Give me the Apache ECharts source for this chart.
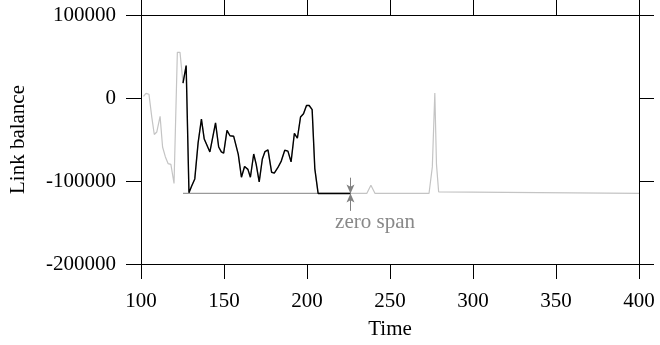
<!DOCTYPE html>
<html>
<head>
<meta charset="utf-8">
<script src="https://cdn.jsdelivr.net/npm/echarts@6/dist/echarts.min.js"></script>
<style>html,body{margin:0;padding:0;background:#fff}#c{width:660px;height:345px}</style>
</head>
<body>
<div id="c"></div>
<script>
// ---- data ----
const greyBeforeT = [101.5, 103, 104.8, 106.5, 108, 109.5, 111.5, 113, 114.7, 116.3, 118, 119.9, 121.9, 123.5];
const greyBeforeV = [2000, 5500, 4500, -23000, -44000, -41000, -22000, -59000, -71000, -79000, -80000, -103000, 55000, 55000];

const blackT = [125.3, 127.2, 128.9, 130.4, 132.4, 134.4, 136.4, 138.1, 141.5, 144.9, 146.8, 148.4, 149.8, 151.8, 153.6, 155.8, 158.6, 160.5, 162.4, 164.4, 165.9, 167.9, 169.4, 171.2, 173.1, 174.7, 176.5, 178.7, 180.3, 182.4, 184.5, 186.6, 188.5, 190.4, 192.4, 194.2, 196.1, 197.9, 199.7, 201.3, 203.1, 204.7, 206.7, 226.2];
const blackV = [17800, 39000, -114200, -106600, -97500, -54000, -25500, -49500, -65000, -30000, -59000, -65000, -66500, -39000, -45500, -46000, -68000, -95500, -82500, -86000, -95500, -67500, -80000, -101000, -73500, -64500, -62500, -89500, -90500, -84000, -76000, -63000, -64000, -77000, -42500, -48500, -23000, -19000, -9000, -9000, -14000, -85000, -115000, -115000];

const greyAfterT = [236, 238.5, 241, 273.5, 275.5, 277, 278, 279.3, 280.5, 400];
const greyAfterV = [-115000, -105000, -115000, -115000, -83000, 6000, -80000, -113000, -115000, -115000];

const zeroSpanT = [125.3, 226.2];
const zeroSpanV = [-115000, -115000];

const xTicks = [100, 150, 200, 250, 300, 350, 400];
const yTicks = [-200000, -100000, 0, 100000];

// annotation anchors (data units)
const arrowX = 226.2, arrowLevel = -115000, arrowTopStart = -96000, arrowBottomStart = -136000;
const noteAt = [241, -150000];
const noteText = 'zero span';

// ---- build ----
const pairs = (t, v) => t.map((x, i) => [x, v[i]]);
const greyAll = pairs(greyBeforeT, greyBeforeV).concat(pairs(blackT, blackV), pairs(greyAfterT, greyAfterV));

const FONT = 'Liberation Serif';
const axisCommon = {
  axisLine: { show: true, onZero: false, lineStyle: { color: '#000', width: 1 } },
  axisTick: { show: true, inside: false, length: 15, lineStyle: { color: '#000', width: 1 } },
  splitLine: { show: false },
};

const chart = echarts.init(document.getElementById('c'), null, { renderer: 'canvas' });
chart.setOption({
  animation: false,
  backgroundColor: '#fff',
  grid: { left: 138, right: 21, top: 15, bottom: 81, containLabel: false },
  xAxis: [
    Object.assign({
      type: 'value', position: 'bottom', min: xTicks[0], max: xTicks[xTicks.length - 1], interval: 50,
      name: 'Time', nameLocation: 'middle', nameGap: 55,
      nameTextStyle: { fontFamily: FONT, fontSize: 21, color: '#000' },
      axisLabel: { margin: 27, fontFamily: FONT, fontSize: 21, color: '#000', formatter: v => String(v) },
    }, axisCommon),
    Object.assign({
      type: 'value', position: 'top', min: xTicks[0], max: xTicks[xTicks.length - 1], interval: 50,
      axisLabel: { show: false },
    }, axisCommon),
  ],
  yAxis: [
    Object.assign({
      type: 'value', position: 'left', min: yTicks[0], max: yTicks[yTicks.length - 1], interval: 100000,
      name: 'Link balance', nameLocation: 'middle', nameGap: 112, nameRotate: 90,
      nameTextStyle: { fontFamily: FONT, fontSize: 21, color: '#000' },
      axisLabel: { margin: 25, fontFamily: FONT, fontSize: 21, color: '#000', formatter: v => String(v) },
    }, axisCommon),
    Object.assign({
      type: 'value', position: 'right', min: yTicks[0], max: yTicks[yTicks.length - 1], interval: 100000,
      axisLabel: { show: false },
    }, axisCommon),
  ],
  series: [
    {
      type: 'line', data: greyAll, showSymbol: false, symbol: 'none',
      lineStyle: { color: '#c4c4c4', width: 1.2 }, z: 2,
    },
    {
      type: 'line', data: pairs(zeroSpanT, zeroSpanV), showSymbol: false, symbol: 'none',
      lineStyle: { color: '#9a9a9a', width: 1.2 }, z: 3,
      markLine: {
        silent: true, symbol: ['none', 'arrow'], symbolSize: [6, 9],
        label: { show: false },
        lineStyle: { type: 'solid', color: '#808080', width: 1 },
        data: [
          [{ coord: [arrowX, arrowTopStart] }, { coord: [arrowX, arrowLevel] }],
          [{ coord: [arrowX, arrowBottomStart] }, { coord: [arrowX, arrowLevel] }],
        ],
      },
      markPoint: {
        silent: true, symbol: 'circle', symbolSize: 0,
        label: { show: true, position: 'inside', formatter: noteText, fontFamily: FONT, fontSize: 21, color: '#888' },
        data: [{ coord: noteAt }],
      },
    },
    {
      type: 'line', data: pairs(blackT, blackV), showSymbol: false, symbol: 'none',
      lineStyle: { color: '#000', width: 1.4 }, z: 4,
    },
  ],
});
</script>
</body>
</html>
